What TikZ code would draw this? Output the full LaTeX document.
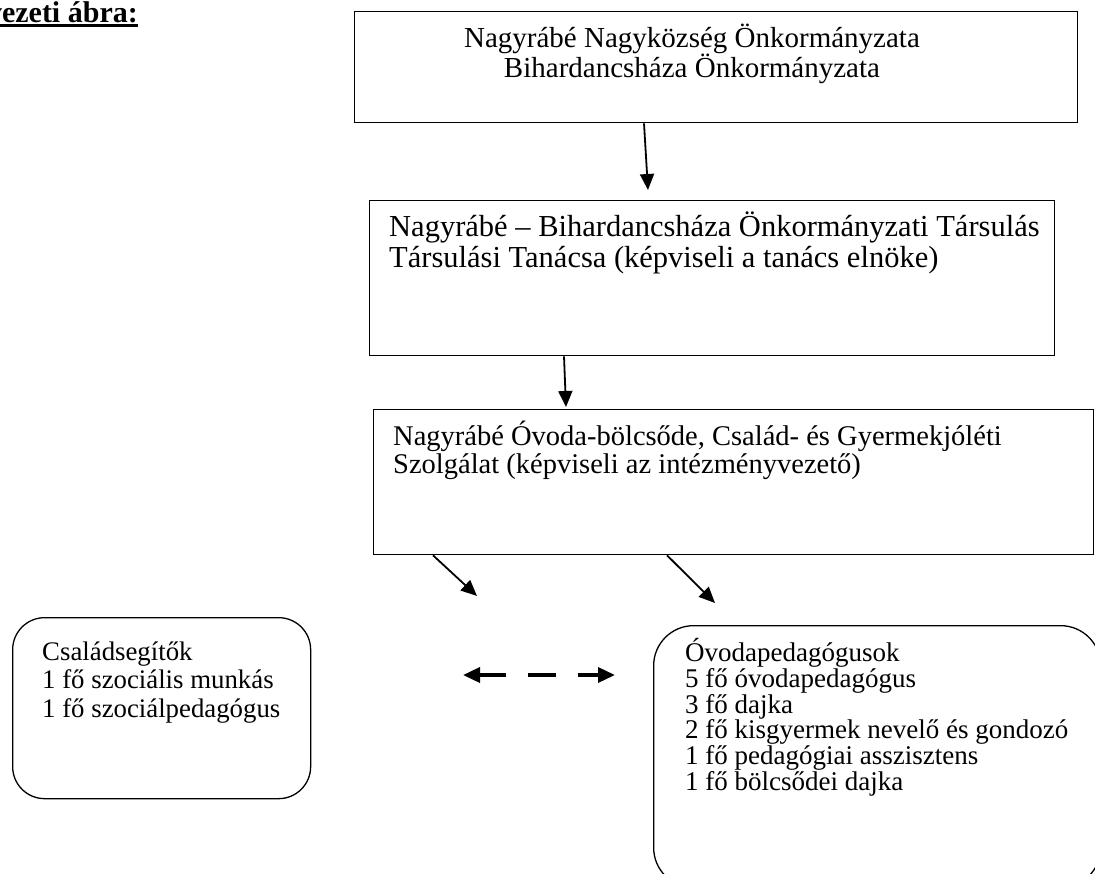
\documentclass[tikz,border=0pt]{standalone}
\usepackage{fontspec}
\setmainfont{Liberation Serif}
\usetikzlibrary{arrows.meta}
\tikzset{
  box/.style={draw=black, line width=1.3pt, inner sep=0pt, fill=none},
  rbox/.style={box, rounded corners=32pt},
  txt/.style={inner sep=0pt, align=left, anchor=base west},
  arr/.style={line width=1.8pt, -{Triangle[length=16pt,width=14pt]}},
  dasharr/.style={line width=3.5pt, {Triangle[length=17pt,width=15pt]}-{Triangle[length=17pt,width=15pt]},
     dash pattern=on 27pt off 22pt on 28pt off 22pt on 60pt}
}
\begin{document}
\begin{tikzpicture}[x=1pt,y=-1pt]
\useasboundingbox (0,0) rectangle (1095,873);
\clip (0,0) rectangle (1095,873);
\fill[white] (0,0) rectangle (1095,873);

% title (cut at the left edge)
\node[inner sep=0pt, anchor=base east, font=\fontsize{30}{32}\selectfont\bfseries] (title) at (138,22) {Szervezeti ábra:};
\draw[line width=2.5pt] ([yshift=-3.5pt]title.base west) -- ([yshift=-3.5pt]title.base east);

% boxes
\node[box, minimum width=723pt, minimum height=111pt, anchor=north west] (b1) at (354,11) {};
\node[box, minimum width=685pt, minimum height=155pt, anchor=north west] (b2) at (369,200) {};
\node[box, minimum width=720pt, minimum height=145pt, anchor=north west] (b3) at (373,409) {};
\node[rbox, minimum width=298pt, minimum height=181pt, anchor=north west] (b5) at (12,617) {};
\node[rbox, rounded corners=40pt, minimum width=447pt, minimum height=262pt, anchor=north west] (b4) at (653,625) {};

% texts (anchor = baseline of the last line)
\node[inner sep=0pt, align=center, anchor=base, font=\fontsize{29}{30}\selectfont] (t1) at (692,77)
  {Nagyrábé Nagyközség Önkormányzata\\Bihardancsháza Önkormányzata};
\node[txt, font=\fontsize{30.5}{31}\selectfont] (t2) at (389,267)
  {Nagyrábé – Bihardancsháza Önkormányzati Társulás\\Társulási Tanácsa (képviseli a tanács elnöke)};
\node[txt, font=\fontsize{28.5}{28}\selectfont] (t3) at (393,473)
  {Nagyrábé Óvoda-bölcsőde, Család- és Gyermekjóléti\\Szolgálat (képviseli az intézményvezető)};
\node[txt, font=\fontsize{26.8}{28.5}\selectfont] (t5) at (42,717)
  {Családsegítők\\1 fő szociális munkás\\1 fő szociálpedagógus};
\node[txt, font=\fontsize{27}{24.3}\selectfont] (t4) at (685,790.5)
  {Óvodapedagógusok\\5 fő óvodapedagógus\\3 fő dajka\\2 fő kisgyermek nevelő és gondozó\\1 fő pedagógiai asszisztens\\1 fő bölcsődei dajka};

% connectors
\draw[arr] ([xshift=290pt]b1.south west) -- ([xshift=279pt,yshift=10pt]b2.north west);
\draw[arr] ([xshift=195pt]b2.south west) -- ([xshift=193pt,yshift=2pt]b3.north west);
\coordinate (d1) at (477,596);
\coordinate (d2) at (715,603);
\draw[arr] ([xshift=60pt]b3.south west) -- (d1);
\draw[arr] ([xshift=294pt]b3.south west) -- (d2);
\coordinate (dl) at (463,675);
\coordinate (dr) at (615,675);
\draw[dasharr] (dl) -- (dr);
\end{tikzpicture}
\end{document}
